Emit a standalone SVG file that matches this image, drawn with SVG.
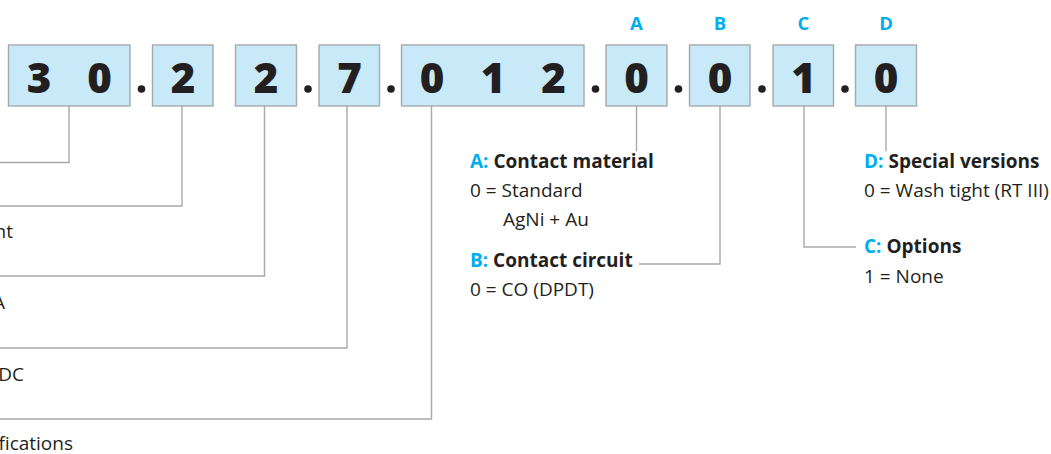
<svg xmlns="http://www.w3.org/2000/svg" width="1051" height="454" viewBox="0 0 1051 454">
<style>
.box{fill:#c8e9f8;stroke:#a7a9ac;stroke-width:1.4}
.dig{font-family:"Open Sans","Liberation Sans",sans-serif;font-weight:800;font-size:42px;fill:#231f20;text-anchor:middle}
.dot{fill:#231f20}
.key{font-family:"Open Sans","Liberation Sans",sans-serif;font-weight:bold;font-size:18.5px;fill:#00aeef;text-anchor:middle}
.t{font-family:"Open Sans","Liberation Sans",sans-serif;font-size:19px;fill:#231f20}
.b{font-weight:bold}
.bl{fill:#00aeef}
.ln{fill:none;stroke:#a7a9ac;stroke-width:1.4}
</style>
<g id="connectors">
<polyline class="ln" points="69,106 69,162.5 0,162.5"/>
<polyline class="ln" points="182,106 182,206 0,206"/>
<polyline class="ln" points="264.5,106 264.5,276 0,276"/>
<polyline class="ln" points="347,106 347,348 0,348"/>
<polyline class="ln" points="431.5,106 431.5,419 0,419"/>
<polyline class="ln" points="636.5,106 636.5,151.5"/>
<polyline class="ln" points="720,106 720,264 639,264"/>
<polyline class="ln" points="804,106 804,247 856,247"/>
<polyline class="ln" points="886,106 886,151.5"/>
</g>
<g id="box-30">
<rect class="box" x="8.5" y="45" width="121.5" height="61"/>
<text class="dig" x="39" y="93">3</text>
<text class="dig" x="99.5" y="93">0</text>
</g>
<circle class="dot" cx="141.5" cy="89" r="3.8"/>
<g id="box-2a">
<rect class="box" x="152.5" y="45" width="60.5" height="61"/>
<text class="dig" x="183" y="93">2</text>
</g>
<g id="box-2b">
<rect class="box" x="235.5" y="45" width="61" height="61"/>
<text class="dig" x="266" y="93">2</text>
</g>
<circle class="dot" cx="308" cy="89" r="3.8"/>
<g id="box-7">
<rect class="box" x="319" y="45" width="60.5" height="61"/>
<text class="dig" x="349.5" y="93">7</text>
</g>
<circle class="dot" cx="391" cy="89" r="3.8"/>
<g id="box-012">
<rect class="box" x="401.5" y="45" width="182.5" height="61"/>
<text class="dig" x="432" y="93">0</text>
<text class="dig" x="493" y="93">1</text>
<text class="dig" x="553.5" y="93">2</text>
</g>
<circle class="dot" cx="595.5" cy="89" r="3.8"/>
<g id="box-A">
<text class="key" x="636.5" y="30">A</text>
<rect class="box" x="606" y="45" width="61" height="61"/>
<text class="dig" x="636.5" y="93">0</text>
</g>
<circle class="dot" cx="678.5" cy="89" r="3.8"/>
<g id="box-B">
<text class="key" x="720" y="30">B</text>
<rect class="box" x="689.5" y="45" width="60.5" height="61"/>
<text class="dig" x="720" y="93">0</text>
</g>
<circle class="dot" cx="762" cy="89" r="3.8"/>
<g id="box-C">
<text class="key" x="803.5" y="30">C</text>
<rect class="box" x="773" y="45" width="60.5" height="61"/>
<text class="dig" x="803.5" y="93">1</text>
</g>
<circle class="dot" cx="845" cy="89" r="3.8"/>
<g id="box-D">
<text class="key" x="886" y="30">D</text>
<rect class="box" x="855.5" y="45" width="61" height="61"/>
<text class="dig" x="886" y="93">0</text>
</g>
<g id="left-labels">
<text class="t" x="13" y="238" text-anchor="end">nt</text>
<text class="t" x="5" y="309" text-anchor="end">A</text>
<text class="t" x="24" y="381" text-anchor="end">DC</text>
<text class="t" x="73" y="450" text-anchor="end">fications</text>
</g>
<g id="label-A">
<text class="t b" x="470" y="168"><tspan class="bl">A:</tspan> Contact material</text>
<text class="t" x="470" y="197">0 = Standard</text>
<text class="t" x="503" y="226">AgNi + Au</text>
</g>
<g id="label-B">
<text class="t b" x="470" y="266.5"><tspan class="bl">B:</tspan> Contact circuit</text>
<text class="t" x="470" y="296">0 = CO (DPDT)</text>
</g>
<g id="label-D">
<text class="t b" x="864" y="168"><tspan class="bl">D:</tspan> Special versions</text>
<text class="t" x="864" y="197">0 = Wash tight (RT III)</text>
</g>
<g id="label-C">
<text class="t b" x="864" y="253"><tspan class="bl">C:</tspan> Options</text>
<text class="t" x="864" y="282.5">1 = None</text>
</g>
</svg>
